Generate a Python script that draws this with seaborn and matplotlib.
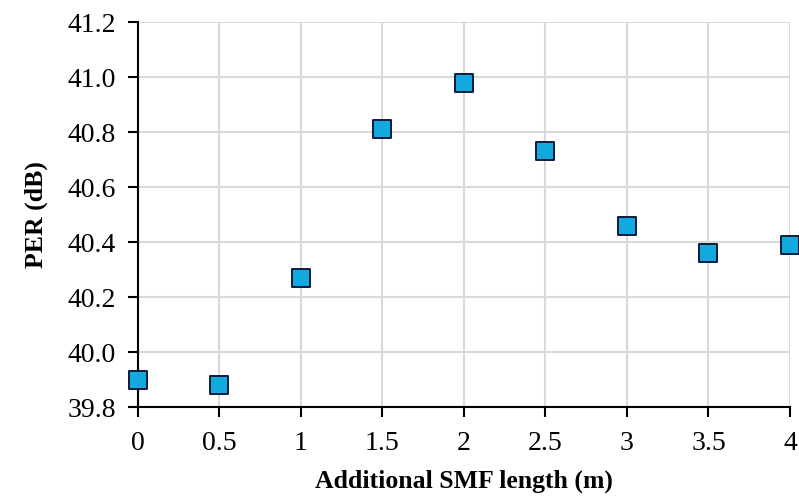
import matplotlib
matplotlib.use("Agg")
import matplotlib.pyplot as plt
import seaborn as sns
import pandas as pd

smf_length = [0, 0.5, 1, 1.5, 2, 2.5, 3, 3.5, 4]
per_db = [39.90, 39.88, 40.27, 40.81, 40.98, 40.73, 40.46, 40.36, 40.39]
x_ticks = [0, 0.5, 1, 1.5, 2, 2.5, 3, 3.5, 4]
x_tick_labels = ["0", "0.5", "1", "1.5", "2", "2.5", "3", "3.5", "4"]
y_ticks = [39.8, 40.0, 40.2, 40.4, 40.6, 40.8, 41.0, 41.2]

df = pd.DataFrame({"len": smf_length, "per": per_db})

sns.set_style("white")
plt.rcParams["font.family"] = ["Liberation Serif", "DejaVu Serif"]
plt.rcParams["text.color"] = "black"
plt.rcParams["axes.labelcolor"] = "black"
plt.rcParams["xtick.color"] = "black"
plt.rcParams["ytick.color"] = "black"

fig = plt.figure(figsize=(7.99, 4.97), dpi=100)
ax = fig.add_axes([0.1727, 0.181, 0.8160, 0.7747])

ax.grid(True, color="#d9d9d9", linewidth=1.5, zorder=0)
ax.set_axisbelow(True)

sns.scatterplot(data=df, x="len", y="per", ax=ax, marker="s", s=150,
                color="#12aade", edgecolor="#0d1b3a", linewidth=1.4, zorder=3,
                clip_on=False)

ax.set_xlim(0, 4)
ax.set_ylim(39.8, 41.2)
ax.set_xticks(x_ticks)
ax.set_xticklabels(x_tick_labels)
ax.set_yticks(y_ticks)
ax.set_yticklabels([f"{v:.1f}" for v in y_ticks])

for s in ["top", "right"]:
    ax.spines[s].set_visible(False)
for s in ["left", "bottom"]:
    ax.spines[s].set_color("black")
    ax.spines[s].set_linewidth(1.5)

ax.tick_params(axis="both", direction="out", length=7, width=1.5, color="black",
               labelcolor="black", labelsize=20, left=True, bottom=True)
ax.tick_params(axis="x", pad=10)
ax.tick_params(axis="y", pad=9)

ax.set_xlabel("Additional SMF length (m)", fontsize=18.5, fontweight="bold", labelpad=10)
ax.set_ylabel("PER (dB)", fontsize=18.5, fontweight="bold", labelpad=14)

fig.savefig("out.png", dpi=100)
